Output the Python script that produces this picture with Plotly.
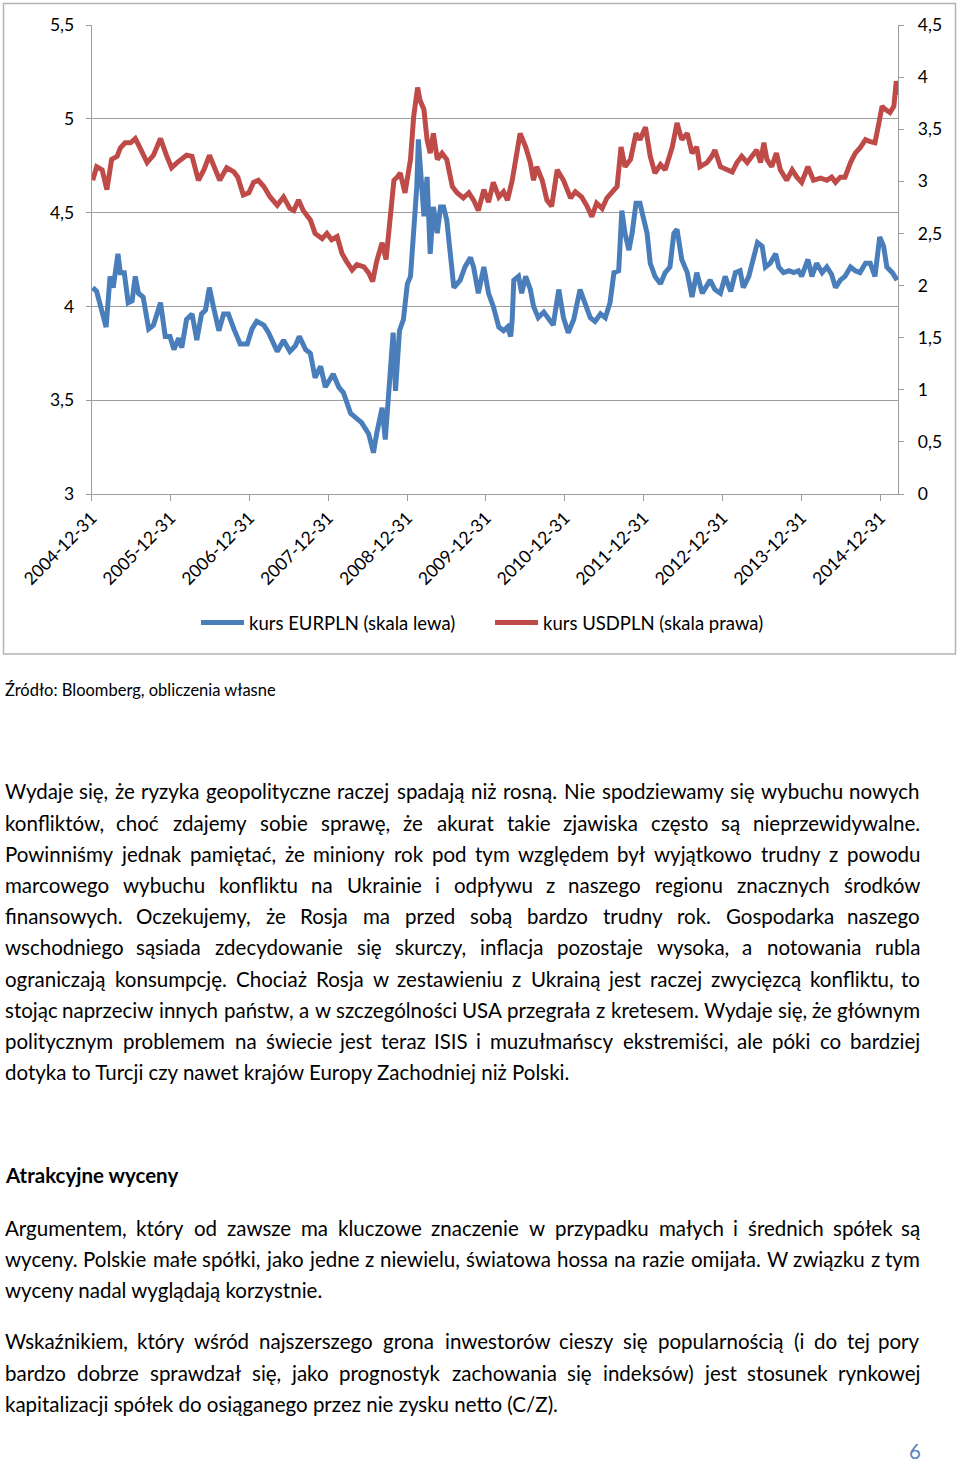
import numpy as np
import pandas as pd
import plotly.graph_objects as go

# ---------------- data ----------------
# time as decimal year (2005.0 = 2004-12-31), values in PLN
eur_t = [2005.01, 2005.06, 2005.11, 2005.18, 2005.23, 2005.27, 2005.33, 2005.36, 2005.41, 2005.46,
         2005.51, 2005.55, 2005.59, 2005.65, 2005.72, 2005.78, 2005.87, 2005.93, 2005.99, 2006.04,
         2006.10, 2006.14, 2006.20, 2006.27, 2006.33, 2006.39, 2006.44, 2006.49, 2006.54, 2006.61,
         2006.67, 2006.73, 2006.80, 2006.88, 2006.97, 2007.03, 2007.09, 2007.18, 2007.24, 2007.35,
         2007.43, 2007.51, 2007.58, 2007.63, 2007.71, 2007.77, 2007.83, 2007.90, 2007.96, 2008.02,
         2008.06, 2008.13, 2008.19, 2008.28, 2008.34, 2008.42, 2008.51, 2008.57, 2008.61, 2008.68,
         2008.72, 2008.76, 2008.82, 2008.85, 2008.90, 2008.95, 2009.00, 2009.04, 2009.08, 2009.12,
         2009.14, 2009.17, 2009.21, 2009.25, 2009.29, 2009.33, 2009.38, 2009.42, 2009.46, 2009.50,
         2009.54, 2009.59, 2009.67, 2009.73, 2009.80, 2009.84, 2009.90, 2009.97, 2010.03, 2010.09,
         2010.16, 2010.22, 2010.27, 2010.31, 2010.33, 2010.35, 2010.41, 2010.45, 2010.50, 2010.56,
         2010.60, 2010.66, 2010.73, 2010.79, 2010.85, 2010.92, 2010.98, 2011.04, 2011.11, 2011.19,
         2011.26, 2011.32, 2011.38, 2011.45, 2011.51, 2011.57, 2011.62, 2011.68, 2011.72, 2011.76,
         2011.81, 2011.85, 2011.90, 2011.95, 2012.00, 2012.04, 2012.08, 2012.14, 2012.21, 2012.27,
         2012.33, 2012.38, 2012.42, 2012.48, 2012.55, 2012.61, 2012.67, 2012.74, 2012.84, 2012.90,
         2012.97, 2013.03, 2013.10, 2013.16, 2013.22, 2013.26, 2013.33, 2013.39, 2013.44, 2013.50,
         2013.54, 2013.60, 2013.67, 2013.71, 2013.77, 2013.84, 2013.90, 2013.96, 2014.00, 2014.08,
         2014.13, 2014.19, 2014.26, 2014.32, 2014.38, 2014.43, 2014.49, 2014.55, 2014.62, 2014.68,
         2014.74, 2014.81, 2014.87, 2014.93, 2014.99, 2015.04, 2015.08, 2015.15, 2015.21]
eur_v = [4.10, 4.08, 4.00, 3.89, 4.16, 4.10, 4.28, 4.18, 4.18, 4.02,
         4.03, 4.16, 4.07, 4.05, 3.88, 3.90, 4.02, 3.84, 3.84, 3.77,
         3.83, 3.78, 3.93, 3.96, 3.82, 3.96, 3.98, 4.10, 4.00, 3.87,
         3.96, 3.96, 3.88, 3.80, 3.80, 3.88, 3.92, 3.90, 3.86, 3.76,
         3.82, 3.76, 3.79, 3.84, 3.77, 3.75, 3.62, 3.68, 3.57, 3.61,
         3.64, 3.57, 3.54, 3.43, 3.41, 3.38, 3.32, 3.22, 3.32, 3.46,
         3.29, 3.55, 3.86, 3.55, 3.87, 3.93, 4.12, 4.16, 4.42, 4.64,
         4.89, 4.74, 4.48, 4.69, 4.28, 4.53, 4.39, 4.53, 4.53, 4.46,
         4.28, 4.10, 4.14, 4.21, 4.26, 4.21, 4.07, 4.21, 4.07, 4.00,
         3.89, 3.87, 3.89, 3.84, 3.93, 4.14, 4.16, 4.07, 4.16, 4.09,
         4.00, 3.94, 3.97, 3.93, 3.90, 4.09, 3.94, 3.86, 3.93, 4.09,
         4.00, 3.94, 3.92, 3.96, 3.94, 4.02, 4.18, 4.19, 4.51, 4.39,
         4.30, 4.39, 4.55, 4.55, 4.46, 4.39, 4.23, 4.16, 4.12, 4.18,
         4.21, 4.39, 4.41, 4.25, 4.18, 4.05, 4.18, 4.07, 4.14, 4.09,
         4.07, 4.16, 4.08, 4.18, 4.19, 4.10, 4.16, 4.25, 4.34, 4.32,
         4.21, 4.23, 4.28, 4.21, 4.18, 4.19, 4.18, 4.19, 4.16, 4.25,
         4.16, 4.23, 4.18, 4.21, 4.17, 4.10, 4.14, 4.16, 4.21, 4.19,
         4.18, 4.23, 4.23, 4.16, 4.37, 4.32, 4.21, 4.18, 4.14]

usd_t = [2005.01, 2005.06, 2005.13, 2005.19, 2005.25, 2005.32, 2005.36, 2005.42, 2005.49, 2005.55,
         2005.61, 2005.70, 2005.78, 2005.87, 2005.95, 2006.01, 2006.08, 2006.14, 2006.20, 2006.27,
         2006.35, 2006.42, 2006.49, 2006.54, 2006.62, 2006.71, 2006.80, 2006.85, 2006.92, 2006.99,
         2007.05, 2007.11, 2007.18, 2007.26, 2007.35, 2007.43, 2007.51, 2007.56, 2007.62, 2007.68,
         2007.77, 2007.83, 2007.92, 2007.98, 2008.04, 2008.11, 2008.17, 2008.23, 2008.30, 2008.36,
         2008.45, 2008.51, 2008.56, 2008.61, 2008.68, 2008.73, 2008.78, 2008.83, 2008.87, 2008.91,
         2008.97, 2009.04, 2009.08, 2009.13, 2009.16, 2009.21, 2009.25, 2009.29, 2009.33, 2009.38,
         2009.44, 2009.50, 2009.57, 2009.63, 2009.71, 2009.78, 2009.84, 2009.90, 2009.97, 2010.03,
         2010.09, 2010.16, 2010.22, 2010.27, 2010.33, 2010.39, 2010.43, 2010.50, 2010.56, 2010.60,
         2010.64, 2010.71, 2010.77, 2010.83, 2010.90, 2010.98, 2011.07, 2011.13, 2011.21, 2011.28,
         2011.34, 2011.40, 2011.47, 2011.53, 2011.59, 2011.66, 2011.71, 2011.76, 2011.83, 2011.90,
         2011.95, 2012.02, 2012.08, 2012.14, 2012.21, 2012.27, 2012.36, 2012.42, 2012.48, 2012.55,
         2012.61, 2012.67, 2012.71, 2012.80, 2012.86, 2012.90, 2012.97, 2013.05, 2013.12, 2013.18,
         2013.24, 2013.31, 2013.37, 2013.43, 2013.48, 2013.52, 2013.56, 2013.62, 2013.68, 2013.73,
         2013.81, 2013.88, 2013.94, 2014.00, 2014.08, 2014.15, 2014.24, 2014.32, 2014.38, 2014.43,
         2014.49, 2014.55, 2014.62, 2014.68, 2014.74, 2014.81, 2014.87, 2014.93, 2014.98, 2015.02,
         2015.06, 2015.12, 2015.17, 2015.20, 2015.23]
usd_v = [3.01, 3.14, 3.11, 2.92, 3.21, 3.24, 3.32, 3.37, 3.37, 3.41,
         3.32, 3.18, 3.25, 3.41, 3.24, 3.13, 3.18, 3.21, 3.25, 3.24,
         3.01, 3.11, 3.25, 3.16, 3.01, 3.13, 3.09, 3.04, 2.87, 2.89,
         2.99, 3.01, 2.95, 2.85, 2.77, 2.85, 2.74, 2.72, 2.82, 2.72,
         2.63, 2.50, 2.45, 2.50, 2.44, 2.47, 2.31, 2.23, 2.15, 2.20,
         2.18, 2.12, 2.04, 2.23, 2.41, 2.25, 2.66, 3.01, 3.04, 3.08,
         2.89, 3.21, 3.62, 3.90, 3.78, 3.69, 3.40, 3.27, 3.46, 3.21,
         3.27, 3.21, 2.95, 2.89, 2.84, 2.89, 2.82, 2.72, 2.92, 2.80,
         2.99, 2.85, 2.90, 2.82, 3.01, 3.33, 3.46, 3.33, 3.18, 3.01,
         3.14, 3.01, 2.82, 2.76, 3.11, 3.01, 2.84, 2.90, 2.85, 2.76,
         2.66, 2.79, 2.74, 2.84, 2.89, 2.95, 3.33, 3.14, 3.21, 3.46,
         3.40, 3.52, 3.24, 3.08, 3.16, 3.11, 3.33, 3.56, 3.40, 3.46,
         3.27, 3.33, 3.14, 3.18, 3.24, 3.30, 3.14, 3.11, 3.09, 3.18,
         3.24, 3.18, 3.24, 3.30, 3.18, 3.37, 3.21, 3.14, 3.27, 3.11,
         3.01, 3.11, 3.04, 2.99, 3.14, 3.01, 3.03, 3.01, 3.04, 2.99,
         3.04, 3.04, 3.18, 3.27, 3.32, 3.40, 3.38, 3.37, 3.56, 3.72,
         3.69, 3.66, 3.72, 3.96, 3.83]

tick_labels = ["2004-12-31", "2005-12-31", "2006-12-31", "2007-12-31", "2008-12-31", "2009-12-31",
               "2010-12-31", "2011-12-31", "2012-12-31", "2013-12-31", "2014-12-31"]
series_names = ["kurs EURPLN (skala lewa)", "kurs USDPLN (skala prawa)"]

source_text = "Źródło: Bloomberg, obliczenia własne"
para1 = [
    "Wydaje się, że ryzyka geopolityczne raczej spadają niż rosną. Nie spodziewamy się wybuchu nowych",
    "konfliktów, choć zdajemy sobie sprawę, że akurat takie zjawiska często są nieprzewidywalne.",
    "Powinniśmy jednak pamiętać, że miniony rok pod tym względem był wyjątkowo trudny z powodu",
    "marcowego wybuchu konfliktu na Ukrainie i odpływu z naszego regionu znacznych środków",
    "finansowych. Oczekujemy, że Rosja ma przed sobą bardzo trudny rok. Gospodarka naszego",
    "wschodniego sąsiada zdecydowanie się skurczy, inflacja pozostaje wysoka, a notowania rubla",
    "ograniczają konsumpcję. Chociaż Rosja w zestawieniu z Ukrainą jest raczej zwycięzcą konfliktu, to",
    "stojąc naprzeciw innych państw, a w szczególności USA przegrała z kretesem. Wydaje się, że głównym",
    "politycznym problemem na świecie jest teraz ISIS i muzułmańscy ekstremiści, ale póki co bardziej",
    "dotyka to Turcji czy nawet krajów Europy Zachodniej niż Polski.",
]
heading = "Atrakcyjne wyceny"
para2 = [
    "Argumentem, który od zawsze ma kluczowe znaczenie w przypadku małych i średnich spółek są",
    "wyceny. Polskie małe spółki, jako jedne z niewielu, światowa hossa na razie omijała. W związku z tym",
    "wyceny nadal wyglądają korzystnie.",
]
para3 = [
    "Wskaźnikiem, który wśród najszerszego grona inwestorów cieszy się popularnością (i do tej pory",
    "bardzo dobrze sprawdzał się, jako prognostyk zachowania się indeksów) jest stosunek rynkowej",
    "kapitalizacji spółek do osiąganego przez nie zysku netto (C/Z).",
]
page_number = "6"

# ---------------- styling ----------------
W, H = 960, 1462
FONT = "Lato"
GRID = "#9c9c9c"
BLUE = "#4A7EBB"
RED = "#BE4B48"
BODY = 20.5


def to_dates(t):
    t = np.asarray(t, dtype=float)
    return pd.Timestamp("2005-01-01") + pd.to_timedelta((t - 2005.0) * 365.25, unit="D")


fig = go.Figure()
fig.add_trace(go.Scatter(x=to_dates(eur_t), y=eur_v, mode="lines", name=series_names[0],
                         line=dict(color=BLUE, width=5), yaxis="y"))
fig.add_trace(go.Scatter(x=to_dates(usd_t), y=usd_v, mode="lines", name=series_names[1],
                         line=dict(color=RED, width=5), yaxis="y2"))

def px_x(x):
    return x / W

def px_y(y):
    return 1 - y / H

tickfont = dict(family=FONT, size=17.5, color="black")

fig.update_layout(
    template="none",
    width=W, height=H, margin=dict(l=0, r=0, t=0, b=0, pad=0, autoexpand=False),
    paper_bgcolor="white", plot_bgcolor="white",
    separators=", ",
    font=dict(family=FONT, color="black"),
    showlegend=True,
    hovermode=False,
    legend=dict(orientation="h", x=px_x(196), xanchor="left", y=px_y(623), yanchor="middle",
                font=dict(family=FONT, size=18.5, color="black"),
                itemwidth=43,
                entrywidth=236, entrywidthmode="pixels", bgcolor="rgba(0,0,0,0)",
                borderwidth=0, itemclick=False),
    xaxis=dict(domain=[px_x(91.7), px_x(898.3)], type="date", automargin=False,
               range=["2004-12-31", "2015-03-25"],
               tickvals=tick_labels, ticktext=tick_labels, tickangle=-45,
               ticks="outside", ticklen=6, tickcolor=GRID, tickwidth=1,
               showline=True, linecolor=GRID, linewidth=1, showgrid=False, zeroline=False,
               tickfont=tickfont, anchor="y"),
    yaxis=dict(domain=[px_y(494), px_y(25)], range=[3, 5.5], tick0=3, dtick=0.5, automargin=False,
               showgrid=True, gridcolor=GRID, gridwidth=1,
               ticks="outside", ticklen=5, tickcolor=GRID,
               showline=True, linecolor=GRID, linewidth=1, zeroline=False,
               tickfont=tickfont, ticklabelstandoff=8),
    yaxis2=dict(overlaying="y", side="right", range=[0, 4.5], tick0=0, dtick=0.5, automargin=False,
                showgrid=False, ticks="outside", ticklen=5, tickcolor=GRID,
                showline=True, linecolor=GRID, linewidth=1, zeroline=False,
                tickfont=tickfont, ticklabelstandoff=10, anchor="x"),
)

# chart frame
fig.add_shape(type="rect", xref="paper", yref="paper",
              x0=px_x(3.5), x1=px_x(955.5), y0=px_y(654), y1=px_y(3.5),
              line=dict(color="#b4b4b4", width=1.5), fillcolor="rgba(0,0,0,0)", layer="below")

# ---------------- text ----------------
CW = {' ': .193, '.': .23, ',': .23, '(': .3, ')': .3, '/': .36, ':': .23, '-': .33,
      'a': .51, 'b': .57, 'c': .47, 'd': .57, 'e': .525, 'f': .32, 'g': .515, 'h': .565,
      'i': .24, 'j': .24, 'k': .5, 'l': .24, 'm': .85, 'n': .565, 'o': .57, 'p': .565,
      'q': .57, 'r': .37, 's': .42, 't': .35, 'u': .565, 'v': .51, 'w': .78, 'x': .48,
      'y': .51, 'z': .45, 'ą': .51, 'ć': .47, 'ę': .525, 'ł': .28, 'ń': .565, 'ó': .57,
      'ś': .42, 'ź': .45, 'ż': .45,
      'A': .67, 'B': .62, 'C': .66, 'D': .74, 'E': .54, 'F': .52, 'G': .71, 'H': .75,
      'I': .28, 'J': .4, 'K': .65, 'L': .48, 'M': .9, 'N': .75, 'O': .79, 'P': .58,
      'Q': .79, 'R': .61, 'S': .51, 'T': .56, 'U': .72, 'V': .67, 'W': 1.0, 'X': .63,
      'Y': .61, 'Z': .6, 'Ś': .51, 'Ź': .6, 'Ż': .6, 'Ł': .5}


def est(s, size):
    return sum(CW.get(ch, .55) for ch in s) * size


annotations = []


def add_text(text, x, baseline, size=BODY, anchor="left", bold=False, color="black"):
    yc = baseline - 0.387 * size
    annotations.append(dict(text=("<b>%s</b>" % text) if bold else text,
                            x=px_x(x), y=px_y(yc), xref="paper", yref="paper",
                            xanchor=anchor, yanchor="middle", showarrow=False, borderpad=0,
                            font=dict(family=FONT, size=size, color=color)))


def add_justified(text, baseline, x0=4, x1=921, size=BODY):
    words = text.split(" ")
    widths = [est(w, size) for w in words]
    gap = (x1 - x0 - sum(widths)) / (len(words) - 1)
    x = x0
    n = len(words)
    for i, (w, wd) in enumerate(zip(words, widths)):
        if i == 0:
            add_text(w, x0, baseline, size, anchor="left")
        elif i == n - 1:
            add_text(w, x1, baseline, size, anchor="right")
        else:
            add_text(w, x + wd / 2, baseline, size, anchor="center")
        x += wd + gap


def add_paragraph(lines, first_baseline, step=31.2):
    for i, ln in enumerate(lines):
        b = first_baseline + i * step
        if i < len(lines) - 1:
            add_justified(ln, b)
        else:
            add_text(ln, 4, b)


add_text(source_text, 4, 696.5, size=16.5)
add_paragraph(para1, 799.3)
add_text(heading, 4, 1183.3, bold=True)
add_paragraph(para2, 1235.7)
add_paragraph(para3, 1349.3)
add_text(page_number, 922, 1459, anchor="right", color="#5b82c0")

fig.update_layout(annotations=annotations)

fig.write_html("out.html",
               config={"displayModeBar": False, "staticPlot": True},
               post_script="document.body.style.margin='0px';document.body.style.overflow='hidden';")
